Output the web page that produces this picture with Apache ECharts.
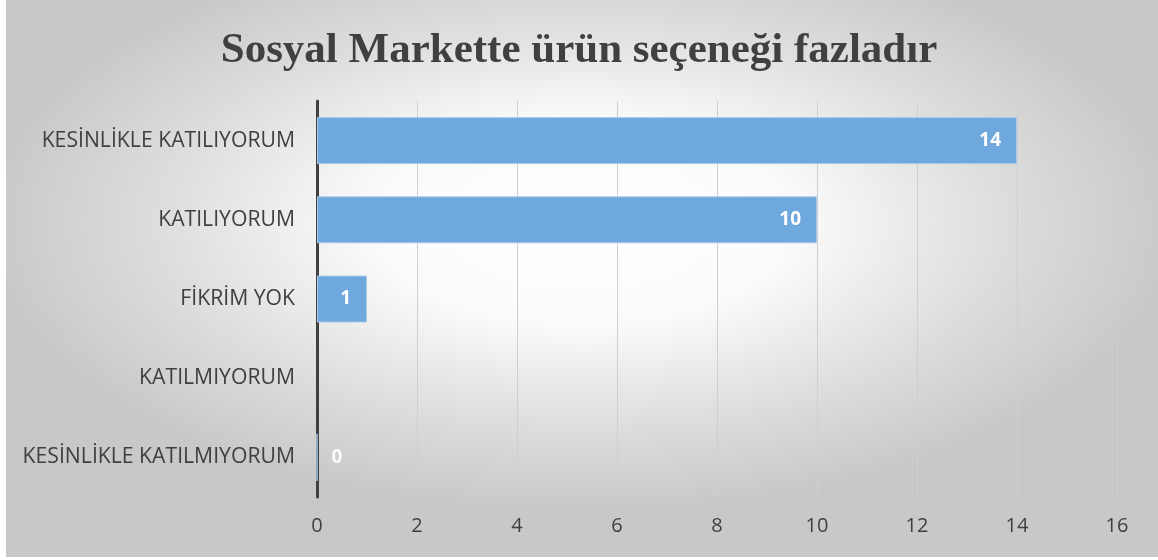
<!DOCTYPE html>
<html><head><meta charset="utf-8">
<script src="https://cdn.jsdelivr.net/npm/echarts@6/dist/echarts.min.js"></script>
<style>html,body{margin:0;padding:0;}#c{width:1158px;height:560px;}</style>
</head><body><div id="c"></div>
<script>
const title = 'Sosyal Markette ürün seçeneği fazladır';
const categories = ['KESİNLİKLE KATILIYORUM','KATILIYORUM','FİKRİM YOK','KATILMIYORUM','KESİNLİKLE KATILMIYORUM'];
const values = [14, 10, 1, null, 0];
const xTicks = [0, 2, 4, 6, 8, 10, 12, 14, 16];

const chart = echarts.init(document.getElementById('c'), null, {renderer:'canvas'});
const data = values.map(v => {
  if (v === 0) return {value: v, label: {position: 'right', distance: 14, color: 'rgba(255,255,255,0.9)'}};
  return v;
});
chart.setOption({
  animation: false,
  backgroundColor: '#ffffff',
  graphic: [{type:'rect', z:-10, silent:true, x:6, y:0, scaleX:1152/557,
    shape:{x:0, y:0, width:557, height:557},
    style:{fill:{type:'radial', x:0.5, y:0.4, r:0.72, colorStops:[{offset:0,color:'#ffffff'},{offset:0.25,color:'#fbfbfb'},{offset:0.5,color:'#dedede'},{offset:0.72,color:'#c8c8c8'}]}}}],
  title: {text: title, left: 'center', top: 24, textStyle:{fontFamily:'Liberation Serif, serif', fontWeight:'bold', fontSize:43, color:'#404040'}},
  grid: {left: 317, right: 41, top: 101, bottom: 63, containLabel: false},
  xAxis: {type:'value', min: xTicks[0], max: xTicks[xTicks.length-1], interval: 2,
    axisLine:{show:false}, axisTick:{show:false},
    axisLabel:{color:'#404040', fontFamily:'Open Sans', fontSize:20, margin:19},
    splitLine:{show:true, lineStyle:{color:'#cfcfcf', width:1}}},
  yAxis: {type:'category', data: categories, inverse: true,
    axisLine:{show:true, lineStyle:{color:'#404040', width:3}}, axisTick:{show:false},
    axisLabel:{color:'#404040', fontFamily:'Open Sans', fontSize:21.2, margin:22}},
  series: [{type:'bar', data: data, barWidth: 47,
    itemStyle:{color:'#6fa8dc', borderColor:'#a9cbea', borderWidth:1},
    label:{show:true, position:'insideRight', distance:16, color:'#ffffff', fontFamily:'Open Sans', fontWeight:'bold', fontSize:19}}]
});
</script></body></html>
